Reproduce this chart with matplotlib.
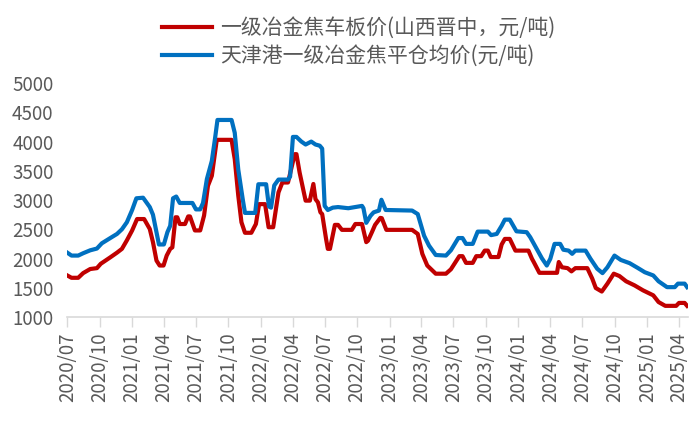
import matplotlib
matplotlib.use('Agg')
import matplotlib.pyplot as plt
import pandas as pd

plt.rcParams['font.family'] = ['Noto Sans CJK SC', 'DejaVu Sans']

# 一级冶金焦车板价(山西晋中)
red_dates = [
    "2020-07-01", "2020-07-13", "2020-08-01", "2020-08-15", "2020-09-04", "2020-09-23",
    "2020-10-04", "2020-10-31", "2020-11-19", "2020-12-03", "2020-12-17", "2021-01-01",
    "2021-01-15", "2021-02-04", "2021-02-20", "2021-03-01", "2021-03-11", "2021-03-20",
    "2021-03-31", "2021-04-09", "2021-04-19", "2021-04-25", "2021-05-04", "2021-05-09",
    "2021-05-16", "2021-05-31", "2021-06-09", "2021-06-14", "2021-06-28", "2021-07-13",
    "2021-07-24", "2021-08-04", "2021-08-15", "2021-08-29", "2021-10-10", "2021-10-19",
    "2021-10-29", "2021-11-07", "2021-11-17", "2021-12-05", "2021-12-18", "2021-12-27",
    "2022-01-13", "2022-01-23", "2022-02-05", "2022-02-20", "2022-03-03", "2022-03-19",
    "2022-03-29", "2022-04-07", "2022-04-12", "2022-04-21", "2022-05-03", "2022-05-08",
    "2022-05-20", "2022-05-30", "2022-06-05", "2022-06-12", "2022-06-19", "2022-06-24",
    "2022-07-05", "2022-07-10", "2022-07-16", "2022-07-30", "2022-08-08", "2022-08-19",
    "2022-09-16", "2022-09-26", "2022-10-15", "2022-10-27", "2022-11-01", "2022-11-12",
    "2022-11-21", "2022-12-06", "2022-12-10", "2022-12-23", "2023-03-06", "2023-03-22",
    "2023-04-04", "2023-04-18", "2023-05-12", "2023-06-10", "2023-06-24", "2023-07-18",
    "2023-07-27", "2023-08-06", "2023-08-25", "2023-09-04", "2023-09-18", "2023-09-28",
    "2023-10-07", "2023-10-15", "2023-11-06", "2023-11-15", "2023-11-24", "2023-12-08",
    "2023-12-24", "2024-01-30", "2024-02-09", "2024-02-14", "2024-03-01", "2024-04-20",
    "2024-04-25", "2024-05-04", "2024-05-20", "2024-05-31", "2024-06-11", "2024-07-15",
    "2024-07-29", "2024-08-08", "2024-08-25", "2024-09-10", "2024-09-28", "2024-10-14",
    "2024-11-02", "2024-11-26", "2024-12-20", "2025-01-18", "2025-02-02", "2025-02-21",
    "2025-03-24", "2025-04-01", "2025-04-17", "2025-04-24",
]
red_values = [
    1710, 1670, 1670, 1750, 1820, 1835,
    1910, 2020, 2100, 2165, 2310, 2480,
    2675, 2675, 2505, 2280, 1965, 1880,
    1880, 2050, 2165, 2190, 2705, 2705,
    2590, 2590, 2720, 2720, 2480, 2480,
    2735, 3245, 3415, 4030, 4030, 3700,
    3075, 2620, 2440, 2440, 2590, 2930,
    2930, 2535, 2535, 3130, 3300, 3300,
    3555, 3785, 3785, 3470, 3130, 2990,
    2990, 3275, 3015, 2960, 2790, 2760,
    2335, 2165, 2165, 2575, 2575, 2490,
    2490, 2590, 2590, 2280, 2305, 2450,
    2575, 2695, 2690, 2490, 2490, 2420,
    2080, 1880, 1740, 1740, 1815, 2040,
    2040, 1925, 1925, 2040, 2040, 2135,
    2135, 2025, 2025, 2240, 2335, 2335,
    2135, 2135, 1995, 1940, 1755, 1755,
    1940, 1850, 1835, 1780, 1835, 1835,
    1655, 1495, 1435, 1570, 1740, 1700,
    1610, 1540, 1455, 1370, 1255, 1190,
    1190, 1240, 1240, 1190,
]

# 天津港一级冶金焦平仓均价
blue_dates = [
    "2020-07-01", "2020-07-13", "2020-08-01", "2020-08-15", "2020-09-04", "2020-09-23",
    "2020-10-07", "2020-10-31", "2020-11-19", "2020-12-03", "2020-12-17", "2021-01-01",
    "2021-01-13", "2021-02-01", "2021-02-20", "2021-03-01", "2021-03-11", "2021-03-18",
    "2021-04-01", "2021-04-11", "2021-04-19", "2021-04-27", "2021-05-06", "2021-05-16",
    "2021-06-21", "2021-07-01", "2021-07-13", "2021-07-21", "2021-08-01", "2021-08-15",
    "2021-08-24", "2021-08-31", "2021-10-10", "2021-10-19", "2021-10-29", "2021-11-11",
    "2021-11-17", "2021-12-16", "2021-12-25", "2022-01-16", "2022-01-24", "2022-01-30",
    "2022-02-08", "2022-02-20", "2022-03-19", "2022-03-25", "2022-04-02", "2022-04-12",
    "2022-04-26", "2022-05-08", "2022-05-24", "2022-06-05", "2022-06-17", "2022-06-24",
    "2022-07-01", "2022-07-10", "2022-07-24", "2022-08-08", "2022-09-06", "2022-10-15",
    "2022-10-19", "2022-10-27", "2022-11-08", "2022-11-17", "2022-12-02", "2022-12-09",
    "2022-12-21", "2023-03-06", "2023-03-22", "2023-04-09", "2023-04-23", "2023-05-12",
    "2023-06-10", "2023-06-24", "2023-07-15", "2023-07-27", "2023-08-06", "2023-08-25",
    "2023-09-08", "2023-10-07", "2023-10-16", "2023-11-01", "2023-11-15", "2023-11-24",
    "2023-12-08", "2023-12-27", "2024-01-25", "2024-02-04", "2024-03-08", "2024-03-22",
    "2024-04-01", "2024-04-13", "2024-04-29", "2024-05-08", "2024-05-23", "2024-06-02",
    "2024-06-11", "2024-07-10", "2024-07-24", "2024-08-12", "2024-08-27", "2024-09-10",
    "2024-09-30", "2024-10-18", "2024-11-12", "2024-12-06", "2024-12-25", "2025-01-18",
    "2025-02-02", "2025-02-26", "2025-03-20", "2025-03-29", "2025-04-17", "2025-04-24",
]
blue_values = [
    2100, 2050, 2050, 2090, 2140, 2170,
    2260, 2350, 2420, 2500, 2620, 2830,
    3030, 3040, 2880, 2750, 2450, 2240,
    2240, 2450, 2560, 3030, 3060, 2950,
    2950, 2840, 2840, 2950, 3360, 3670,
    4050, 4370, 4370, 4150, 3520, 3000,
    2780, 2780, 3270, 3270, 2890, 2870,
    3250, 3350, 3350, 3400, 4080, 4080,
    4000, 3950, 4000, 3950, 3930, 3880,
    2900, 2830, 2870, 2880, 2860, 2900,
    2860, 2610, 2730, 2790, 2820, 3005,
    2830, 2820, 2760, 2390, 2220, 2060,
    2050, 2140, 2350, 2350, 2250, 2250,
    2460, 2460, 2400, 2420, 2560, 2665,
    2665, 2465, 2450, 2365, 2005, 1880,
    1995, 2250, 2250, 2150, 2135, 2080,
    2135, 2135, 1995, 1825, 1750, 1850,
    2050, 1975, 1920, 1835, 1765, 1710,
    1610, 1510, 1510, 1570, 1570, 1510,
]

red_label = "一级冶金焦车板价(山西晋中，元/吨)"
blue_label = "天津港一级冶金焦平仓均价(元/吨)"

tick_dates = pd.date_range("2020-07-01", "2025-04-01", freq="3MS")
tick_labels = [d.strftime("%Y/%m") for d in tick_dates]
y_ticks = [1000, 1500, 2000, 2500, 3000, 3500, 4000, 4500, 5000]

fig = plt.figure(figsize=(7, 4.33), dpi=100)
ax = fig.add_axes([0.0961, 0.268, 0.8865, 0.540])

ax.plot(pd.to_datetime(red_dates), red_values, color="#C00000", linewidth=3.0,
        solid_joinstyle="round", label=red_label)
ax.plot(pd.to_datetime(blue_dates), blue_values, color="#0070C0", linewidth=3.0,
        solid_joinstyle="round", label=blue_label)

ax.set_xlim(pd.Timestamp("2020-07-01"), pd.Timestamp("2025-04-26"))
ax.set_ylim(1000, 5000)
ax.set_yticks(y_ticks)
ax.set_xticks(tick_dates)
ax.set_xticklabels(tick_labels, rotation=90, fontsize=13.5, color="#595959")
ax.tick_params(axis="y", length=0, pad=10, labelsize=13.5, labelcolor="#595959")
ax.tick_params(axis="x", length=7, width=1, color="#d9d9d9", pad=4)

for side in ["top", "right", "left"]:
    ax.spines[side].set_visible(False)
ax.spines["bottom"].set_color("#d9d9d9")
ax.spines["bottom"].set_linewidth(1.2)

fig.legend(loc="center", bbox_to_anchor=(0.512, 0.903), frameon=False,
           fontsize=15, handlelength=2.4, handletextpad=0.4, labelspacing=0.3,
           labelcolor="#595959")

plt.savefig("out.png", dpi=100)
